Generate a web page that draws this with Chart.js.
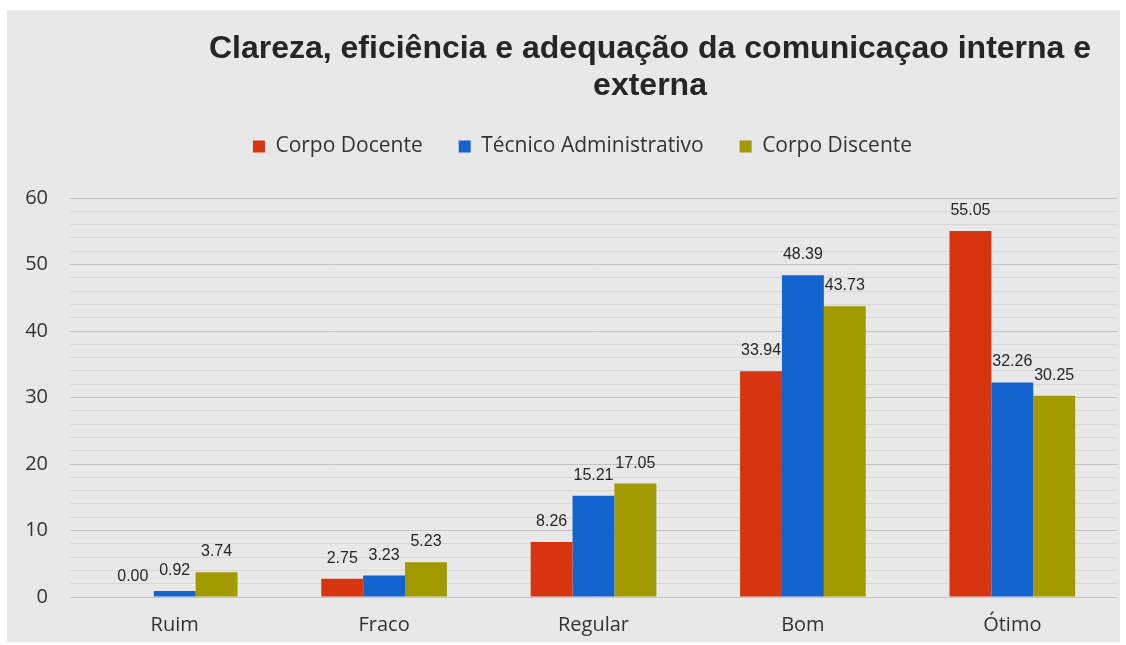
<!DOCTYPE html>
<html>
<head>
<meta charset="utf-8">
<script src="https://cdn.jsdelivr.net/npm/chart.js@4"></script>
<style>
  body { margin: 0; background: #ffffff; width: 1126px; height: 645px; overflow: hidden; }
  #panel { position: absolute; left: 7px; top: 10px; width: 1113px; height: 632px; background: #e8e8e8; }
  #title {
    position: absolute; left: 150px; width: 1000px; top: 29px;
    text-align: center; font: bold 32px "Liberation Sans", Arial, sans-serif;
    color: #262626; line-height: 37px;
  }
  canvas { position: absolute; left: 0; top: 0; }
</style>
</head>
<body>
<div id="panel">
  <canvas id="chart" width="1113" height="635"></canvas>
</div>
<div id="title">Clareza, eficiência e adequação da comunicaçao interna e<br>externa</div>
<script>
const categories = ["Ruim", "Fraco", "Regular", "Bom", "Ótimo"];
const corpoDocente = [0.00, 2.75, 8.26, 33.94, 55.05];
const tecnicoAdministrativo = [0.92, 3.23, 15.21, 48.39, 32.26];
const corpoDiscente = [3.74, 5.23, 17.05, 43.73, 30.25];
const yTicks = [0, 10, 20, 30, 40, 50, 60];

// value labels above each bar
const valueLabels = {
  id: "valueLabels",
  afterDatasetsDraw(chart) {
    const ctx = chart.ctx;
    ctx.save();
    ctx.font = "16px 'Liberation Sans', Arial, sans-serif";
    ctx.fillStyle = "#262626";
    ctx.textAlign = "center";
    ctx.textBaseline = "alphabetic";
    chart.data.datasets.forEach((ds, i) => {
      chart.getDatasetMeta(i).data.forEach((bar, j) => {
        ctx.fillText(ds.data[j].toFixed(2), bar.x, bar.y - 16);
      });
    });
    ctx.restore();
  }
};

// leave room between the legend and the plot, and nudge it right a bit
const legendGap = {
  id: "legendGap",
  beforeInit(chart) {
    const fit = chart.legend.fit;
    chart.legend.fit = function () {
      fit.call(this);
      this.height += 31;
    };
  },
  beforeDraw(chart) {
    chart.legend.left = 7 + 17;
    chart.legend.right = chart.width - 3 + 17;
  }
};

const ctx = document.getElementById("chart").getContext("2d");
new Chart(ctx, {
  type: "bar",
  data: {
    labels: categories,
    datasets: [
      { label: "Corpo Docente", data: corpoDocente, backgroundColor: "#d73410" },
      { label: "Técnico Administrativo", data: tecnicoAdministrativo, backgroundColor: "#1464d0" },
      { label: "Corpo Discente", data: corpoDiscente, backgroundColor: "#a29800" }
    ]
  },
  options: {
    responsive: false,
    animation: false,
    layout: { padding: { top: 90, left: 7, right: 3, bottom: 0 } },
    datasets: {
      bar: { categoryPercentage: 0.6, barPercentage: 1.0 }
    },
    scales: {
      x: {
        grid: { display: false },
        border: { display: false },
        ticks: { color: "#333333", font: { family: "'Open Sans', sans-serif", size: 20 }, padding: 8 }
      },
      y: {
        min: 0,
        max: 60,
        border: { display: false },
        afterFit(scale) { scale.width = 56; },
        grid: {
          color: (c) => (yTicks.includes(c.tick.value) ? "#c2c2c2" : "#d8d8d8"),
          lineWidth: 1,
          drawTicks: false
        },
        ticks: {
          stepSize: 2,
          autoSkip: false,
          padding: 22,
          color: "#333333",
          font: { family: "'Open Sans', sans-serif", size: 20 },
          callback: (v) => (yTicks.includes(v) ? v : "")
        }
      }
    },
    plugins: {
      legend: {
        position: "top",
        labels: {
          boxWidth: 12,
          boxHeight: 12,
          padding: 36,
          color: "#333333",
          font: { family: "'Open Sans', sans-serif", size: 21 }
        }
      },
      title: { display: false },
      tooltip: { enabled: false }
    }
  },
  plugins: [valueLabels, legendGap]
});
</script>
</body>
</html>
